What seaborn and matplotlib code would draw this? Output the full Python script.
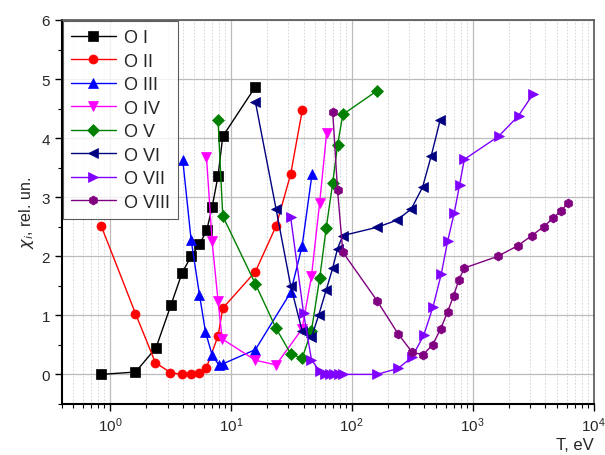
import numpy as np
import pandas as pd
import seaborn as sns
import matplotlib.pyplot as plt
from matplotlib.ticker import LogLocator, MultipleLocator, NullFormatter

sns.set_style('white')
plt.rcParams['font.family'] = ['Liberation Sans', 'DejaVu Sans']

labels = ['O I', 'O II', 'O III', 'O IV', 'O V', 'O VI', 'O VII', 'O VIII']
colors = ['#000000', '#ff0000', '#0000ff', '#ff00ff', '#008000', '#000080', '#8000ff', '#800080']
marks = ['s', 'o', '^', 'v', 'D', '<', '>', 'h']

T1 = [0.85, 1.63, 2.41, 3.21, 3.96, 4.70, 5.51, 6.33, 7.01, 7.85, 8.59, 16.0]
C1 = [0.0, 0.04, 0.45, 1.18, 1.72, 2.0, 2.2, 2.44, 2.83, 3.36, 4.03, 4.87]

T2 = [0.85, 1.63, 2.38, 3.17, 3.96, 4.70, 5.51, 6.26, 7.85, 8.59, 16.0, 23.7, 31.3, 39.1]
C2 = [2.51, 1.03, 0.2, 0.03, 0.0, 0.0, 0.03, 0.1, 0.65, 1.12, 1.74, 2.51, 3.39, 4.48]

T3 = [4.01, 4.70, 5.51, 6.18, 7.01, 7.96, 8.65, 16.0, 31.3, 38.9, 47.0]
C3 = [3.63, 2.28, 1.35, 0.72, 0.33, 0.16, 0.18, 0.42, 1.39, 2.17, 3.39]

T4 = [6.30, 7.01, 7.85, 8.49, 16.0, 23.7, 38.9, 46.5, 54.4, 62.1]
C4 = [3.68, 2.25, 1.25, 0.60, 0.24, 0.16, 0.77, 1.66, 2.91, 4.09]

T5 = [7.85, 8.59, 16.0, 23.7, 31.3, 38.9, 46.5, 54.4, 61.6, 69.7, 76.4, 84.5, 161.8]
C5 = [4.31, 2.68, 1.53, 0.78, 0.35, 0.27, 0.74, 1.63, 2.48, 3.24, 3.88, 4.40, 4.80]

T6 = [16.0, 23.7, 31.3, 38.9, 46.5, 53.3, 61.6, 69.7, 76.4, 84.5, 161.8, 236.7, 311, 386, 455, 540]
C6 = [4.61, 2.80, 1.50, 0.74, 0.63, 1.0, 1.43, 1.80, 2.13, 2.35, 2.49, 2.61, 2.80, 3.17, 3.70, 4.31]

T7 = [31.3, 40.0, 46.5, 54.4, 60, 66, 72, 78, 85, 161.8, 241.5, 315, 394, 470, 551, 621, 706, 781, 854,
      1640, 2400, 3150]
C7 = [2.66, 1.04, 0.25, 0.05, 0.01, 0.0, 0.0, 0.0, 0.0, 0.0, 0.1, 0.29, 0.66, 1.14, 1.70, 2.25, 2.74, 3.21,
      3.64, 4.03, 4.38, 4.74]

T8 = [69.7, 76.4, 84.5, 161.8, 241.5, 315, 388, 467, 545, 621, 697, 766, 854, 1619, 2370, 3090, 3860, 4610,
      5410, 6140]
C8 = [4.45, 3.12, 2.07, 1.25, 0.69, 0.38, 0.33, 0.50, 0.77, 1.06, 1.33, 1.59, 1.80, 2.0, 2.18, 2.35, 2.50,
      2.64, 2.77, 2.90]

Ts = [T1, T2, T3, T4, T5, T6, T7, T8]
Cs = [C1, C2, C3, C4, C5, C6, C7, C8]

fig = plt.figure(figsize=(6.05, 4.56), dpi=100)
ax = fig.add_axes([0.102, 0.112, 0.879, 0.842])

for t, c, lab, col, m in zip(Ts, Cs, labels, colors, marks):
    sns.lineplot(x=t, y=c, ax=ax, sort=False, color=col, marker=m, label=lab,
                 markersize=6.5, markeredgecolor=col, markeredgewidth=0.5, linewidth=1)

ax.set_xscale('log')
ax.set_xlim(0.4, 1e4)
ax.set_ylim(-0.5, 6)

ax.xaxis.set_major_locator(LogLocator(base=10, numticks=10))
ax.xaxis.set_minor_locator(LogLocator(base=10, subs=np.arange(2, 10), numticks=20))
ax.xaxis.set_minor_formatter(NullFormatter())
ax.yaxis.set_major_locator(MultipleLocator(1))
ax.yaxis.set_minor_locator(MultipleLocator(0.5))

ax.grid(which='major', axis='both', color='#bcbcbc', linewidth=0.9)
ax.grid(which='minor', axis='x', color='#d0d0d0', linewidth=0.6, linestyle=(0, (2, 2)))
ax.set_axisbelow(True)

for s in ['left', 'bottom']:
    ax.spines[s].set_color('black')
    ax.spines[s].set_linewidth(1.5)
for s in ['top', 'right']:
    ax.spines[s].set_color('#555555')
    ax.spines[s].set_linewidth(1.2)

ax.tick_params(which='major', direction='out', length=5, width=1, labelsize=11,
               bottom=True, left=True, top=False, right=False, color='black')
ax.tick_params(which='minor', direction='out', length=3, width=0.8,
               bottom=True, left=True, top=False, right=False, color='black')

ax.set_ylabel(r'$\chi_i$, rel. un.', fontsize=11.5)
ax.set_xlabel('T, eV', fontsize=12, loc='right', labelpad=2)

leg = ax.legend(loc='upper left', fontsize=13, frameon=True, fancybox=False,
                borderaxespad=0.05, handlelength=2.5, labelspacing=0.36,
                handletextpad=0.45, borderpad=0.45)
leg.get_frame().set_edgecolor('#333333')
leg.get_frame().set_linewidth(0.8)

fig.savefig('out.png', dpi=100)
